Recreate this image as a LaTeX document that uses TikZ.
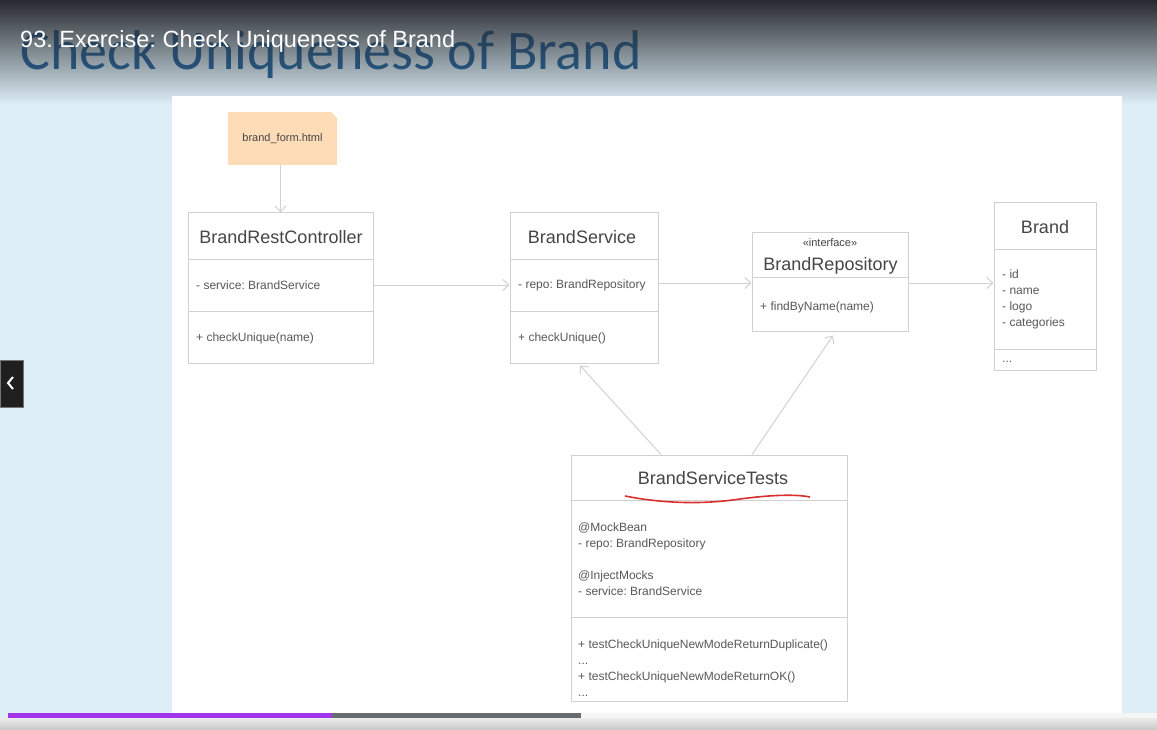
\documentclass[tikz,border=0pt]{standalone}
\usepackage{fontspec}
\setmainfont{Liberation Sans}
\newfontfamily\slidefont{Carlito}
\usepackage{xcolor}
\usepackage{tikz}
\usetikzlibrary{arrows.meta,fadings}
\frenchspacing

\definecolor{slidebg}{HTML}{DDEEF6}
\definecolor{playerdark}{HTML}{272A30}
\definecolor{titleblue}{HTML}{2668A0}
\definecolor{boxline}{HTML}{D0D0D0}
\definecolor{linkgray}{HTML}{D2D2D2}
\definecolor{txtgray}{HTML}{454545}
\definecolor{notefill}{HTML}{FDDCB7}
\definecolor{barpurple}{HTML}{A334EE}
\definecolor{bargray}{HTML}{686C70}
\definecolor{penred}{HTML}{D8302E}

\tikzfading[name=playerfade, top color=transparent!0, bottom color=transparent!100]

\tikzset{
  cls/.style={draw=boxline, fill=white, line width=1pt, inner sep=0pt},
  hdr/.style={text=txtgray, font=\fontsize{18}{20}\selectfont, inner sep=0pt},
  mem/.style={text=txtgray!90, font=\fontsize{12}{16}\selectfont, anchor=west, inner sep=0pt, align=left},
  link/.style={draw=linkgray, line width=1pt, -{Straight Barb[length=6pt,width=11pt]}},
}

\begin{document}
\begin{tikzpicture}[x=1pt,y=-1pt]
  \useasboundingbox (0,0) rectangle (1157,730);
  % player and slide background
  \fill[slidebg] (0,0) rectangle (1157,730);
  \node[anchor=base west, inner sep=0pt, text=titleblue,
        font=\slidefont\fontsize{56}{60}\selectfont] (slideTitle) at (20,70) {Check Uniqueness of Brand};
  \fill[playerdark, path fading=playerfade] (0,0) rectangle (1157,104);
  \fill[white] (172,96) rectangle (1122,718);
  \node[anchor=base west, inner sep=0pt, text=white,
        font=\fontsize{23.5}{26}\selectfont] (videoTitle) at (20,48) {93. Exercise: Check Uniqueness of Brand};

  % back button
  \node[fill=black!88, draw=black!55, minimum width=23pt, minimum height=47pt, inner sep=0pt] (backBtn) at (11.5,383.5) {};
  \draw[white, line width=2pt] (13,377) -- (8,383) -- (13,389);

  % progress bar
  \fill[black!4] (8,713) rectangle (1157,718);
  \fill[bargray] (8,713) rectangle (581,718);
  \fill[barpurple] (8,713) rectangle (332,718);
  \shade[top color=black!8, bottom color=black!22] (0,718) rectangle (1157,730);

  % note
  \node[fill=notefill, minimum width=109pt, minimum height=53pt, inner sep=0pt,
        font=\fontsize{11}{13}\selectfont, text=txtgray] (formNote) at (282.5,138.5) {brand\_form.html};
  \fill[white] ([xshift=-6pt]formNote.north east) -- (formNote.north east) -- ([yshift=-6pt]formNote.north east) -- cycle;

  % classes
  \node[cls, minimum width=185pt, minimum height=150pt] (ctrl) at (280.5,288) {};
  \node[cls, minimum width=148pt, minimum height=150pt] (svc) at (584,288) {};
  \node[cls, minimum width=156pt, minimum height=98pt] (repo) at (830,282) {};
  \node[cls, minimum width=102pt, minimum height=167pt] (brand) at (1045,286.5) {};
  \node[cls, minimum width=276pt, minimum height=246pt] (tests) at (709,578) {};
  \foreach \cl/\y in {ctrl/260, ctrl/311, svc/260, svc/311, repo/278, brand/250, brand/349, tests/500, tests/617}
    \draw[boxline, line width=1pt] (\cl.west |- 0,\y) -- (\cl.east |- 0,\y);

  \node[hdr] (ctrlName) at (281,237) {BrandRestController};
  \node[mem] (ctrlField) at (196,285) {- service: BrandService};
  \node[mem] (ctrlOp) at (196,338) {+ checkUnique(name)};

  \node[hdr] (svcName) at (582,237) {BrandService};
  \node[mem] (svcField) at (518,285) {- repo: BrandRepository};
  \node[mem] (svcOp) at (518,338) {+ checkUnique()};

  \node[hdr, font=\fontsize{11}{12}\selectfont] (repoStereo) at (830,243) {«interface»};
  \node[hdr] (repoName) at (830.5,266) {BrandRepository};
  \node[mem] (repoOp) at (760,307) {+ findByName(name)};

  \node[hdr] (brandName) at (1045,227) {Brand};
  \node[mem] (brandFields) at (1002,299.5) {- id\\- name\\- logo\\- categories};
  \node[mem] (brandOps) at (1002,362) {...};

  \node[hdr] (testsName) at (713,478) {BrandServiceTests};
  \draw[penred, line width=1.6pt] (625,496) .. controls (660,503) and (700,505) .. (740,499)
    .. controls (770,495) and (795,494) .. (810,497);
  \node[mem] (testsFields) at (578,559) {@MockBean\\- repo: BrandRepository\\[16pt]@InjectMocks\\- service: BrandService};
  \node[mem] (testsOps) at (578,668) {+ testCheckUniqueNewModeReturnDuplicate()\\...\\+ testCheckUniqueNewModeReturnOK()\\...};

  % connectors
  \coordinate (rowR) at (0,283);
  \draw[link] (ctrl.north |- formNote.south) -- (ctrl.north);
  \draw[link] (ctrl.east |- ctrlField) -- (svc.west |- ctrlField);
  \draw[link] (svc.east |- rowR) -- (repo.west |- rowR);
  \draw[link] (repo.east |- rowR) -- (brand.west |- rowR);
  \draw[link] ([xshift=-48pt]tests.north) -- ([xshift=-4pt,yshift=-2pt]svc.south);
  \draw[link] ([xshift=43pt]tests.north) -- ([xshift=3pt,yshift=-4pt]repo.south);
\end{tikzpicture}
\end{document}
